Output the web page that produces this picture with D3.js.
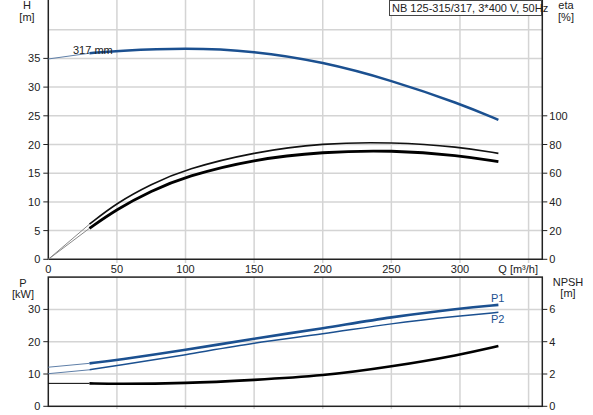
<!DOCTYPE html>
<html>
<head>
<meta charset="utf-8">
<script src="https://cdn.jsdelivr.net/npm/d3@7"></script>
<style>
  body { margin: 0; background: #fff; }
  text { font-family: "Liberation Sans", Arial, sans-serif; font-size: 11px; fill: #222; }
</style>
</head>
<body>
<div id="chart"></div>
<script>
// flow points (m3/h)
var flow = [0, 30, 50, 100, 150, 200, 250, 300, 328];
var flowEta = [0, 30, 50, 75, 100, 150, 200, 250, 300, 328];
// head, m
var head = [34.9, 35.9, 36.3, 36.85, 36.3, 34.4, 31.2, 27.1, 24.3];
// efficiencies, % (on flowEta)
var etaUpper = [0, 24.5, 39.4, 52.4, 62.8, 74.8, 81.0, 81.7, 78.4, 73.8];
var etaLower = [0, 21.6, 35.0, 47.6, 57.8, 69.8, 74.9, 76.1, 72.4, 68.0];
// power, kW
var powerP1 = [12.1, 13.3, 14.3, 17.4, 21.0, 24.1, 27.7, 30.3, 31.4];
var powerP2 = [10.1, 11.3, 12.6, 15.9, 19.7, 22.3, 25.7, 28.0, 29.1];
// npsh, m
var npsh = [1.42, 1.42, 1.38, 1.42, 1.63, 1.88, 2.45, 3.18, 3.73];

var qTicks = [0, 50, 100, 150, 200, 250, 300];
var qGrid = [50, 100, 150, 200, 250, 300, 350];
var hTicks = [0, 5, 10, 15, 20, 25, 30, 35];
var hGrid = [5, 10, 15, 20, 25, 30, 35, 40];
var etaTicks = [0, 20, 40, 60, 80, 100];
var pTicks = [0, 10, 20, 30];
var npshTicks = [0, 2, 4, 6];

var width = 593, height = 415;
var blue = "#1b5090";
var grid = "#d4d4d4";

var svg = d3.select("#chart").append("svg").attr("width", width).attr("height", height);

var x = d3.scaleLinear().domain([0, 360]).range([48.3, 542.3]);
var yH = d3.scaleLinear().domain([0, 45]).range([259.3, 1]);
var yEta = d3.scaleLinear().domain([0, 180]).range([259.3, 1]);
var yP = d3.scaleLinear().domain([0, 40]).range([406.3, 277.1]);
var yN = d3.scaleLinear().domain([0, 8]).range([406.3, 277.1]);

function pairs(qs, vals) {
  return qs.map(function(q, i) { return [q, vals[i]]; });
}

// grid lines
svg.append("g").selectAll("line").data(qGrid).enter().append("line")
  .attr("x1", function(d) { return x(d); }).attr("x2", function(d) { return x(d); })
  .attr("y1", 0).attr("y2", 263)
  .attr("stroke", grid).attr("stroke-width", 1.5);
svg.append("g").selectAll("line").data(hGrid).enter().append("line")
  .attr("x1", x(0)).attr("x2", x(360))
  .attr("y1", function(d) { return yH(d); }).attr("y2", function(d) { return yH(d); })
  .attr("stroke", grid).attr("stroke-width", 1.5);
svg.append("g").selectAll("line").data(qGrid).enter().append("line")
  .attr("x1", function(d) { return x(d); }).attr("x2", function(d) { return x(d); })
  .attr("y1", 277).attr("y2", 409)
  .attr("stroke", grid).attr("stroke-width", 1.5);
svg.append("g").selectAll("line").data([10, 20, 30]).enter().append("line")
  .attr("x1", x(0)).attr("x2", x(360))
  .attr("y1", function(d) { return yP(d); }).attr("y2", function(d) { return yP(d); })
  .attr("stroke", grid).attr("stroke-width", 1.5);

// axes
var axisColor = "#222";
svg.append("path").attr("d", "M" + x(0) + ",0V" + yH(0) + "H" + x(360) + "V0")
  .attr("fill", "none").attr("stroke", axisColor).attr("stroke-width", 1.5);
svg.append("rect").attr("x", x(0)).attr("y", yP(40)).attr("width", x(360) - x(0)).attr("height", yP(0) - yP(40))
  .attr("fill", "none").attr("stroke", axisColor).attr("stroke-width", 1.5);

function leftTicks(scale, ticks) {
  var g = svg.append("g");
  g.selectAll("line").data(ticks).enter().append("line")
    .attr("x1", x(0) - 5).attr("x2", x(0))
    .attr("y1", function(d) { return scale(d); }).attr("y2", function(d) { return scale(d); })
    .attr("stroke", axisColor);
  g.selectAll("text").data(ticks).enter().append("text")
    .attr("x", x(0) - 8).attr("y", function(d) { return scale(d) + 4; })
    .attr("text-anchor", "end").text(function(d) { return d; });
}
function rightTicks(scale, ticks) {
  var g = svg.append("g");
  g.selectAll("line").data(ticks).enter().append("line")
    .attr("x1", x(360)).attr("x2", x(360) + 5)
    .attr("y1", function(d) { return scale(d); }).attr("y2", function(d) { return scale(d); })
    .attr("stroke", axisColor);
  g.selectAll("text").data(ticks).enter().append("text")
    .attr("x", x(360) + 7).attr("y", function(d) { return scale(d) + 4; })
    .attr("text-anchor", "start").text(function(d) { return d; });
}
leftTicks(yH, hTicks);
rightTicks(yEta, etaTicks);
leftTicks(yP, pTicks);
rightTicks(yN, npshTicks);

svg.append("g").selectAll("text").data(qTicks).enter().append("text")
  .attr("x", function(d) { return x(d); }).attr("y", 273)
  .attr("text-anchor", "middle").text(function(d) { return d; });
svg.append("text").attr("x", 538).attr("y", 273).attr("text-anchor", "end").text("Q [m³/h]");

// axis titles
function title(tx, ty, s) {
  svg.append("text").attr("x", tx).attr("y", ty).attr("text-anchor", "middle").text(s);
}
title(27, 9, "H"); title(27, 21, "[m]");
title(566, 9, "eta"); title(566, 21, "[%]");
title(23, 287, "P"); title(23, 298, "[kW]");
title(568, 286, "NPSH"); title(568, 297, "[m]");

// header box
svg.append("rect").attr("x", 389.5).attr("y", 0.5).attr("width", 152).attr("height", 15)
  .attr("fill", "#fff").attr("stroke", "#444");
svg.append("text").attr("x", 392).attr("y", 12).text("NB 125-315/317, 3*400 V, 50Hz");

// curves: thin straight lead-in to the first measured point, then smooth thick curve
function drawCurve(qs, vals, yScale, color, thick, thin) {
  var pts = pairs(qs, vals);
  var lead = d3.line().x(function(d) { return x(d[0]); }).y(function(d) { return yScale(d[1]); });
  var smooth = d3.line().x(function(d) { return x(d[0]); }).y(function(d) { return yScale(d[1]); })
    .curve(d3.curveBasis);
  svg.append("path").attr("d", lead(pts.slice(0, 2)))
    .attr("fill", "none").attr("stroke", thin).attr("stroke-width", 1);
  svg.append("path").attr("d", smooth(pts.slice(1)))
    .attr("fill", "none").attr("stroke", color).attr("stroke-width", thick);
}

drawCurve(flow, head, yH, blue, 2.5, "#5f7fa8");
drawCurve(flowEta, etaUpper, yEta, "#111", 1.6, "#888");
drawCurve(flowEta, etaLower, yEta, "#000", 2.8, "#888");
drawCurve(flow, powerP1, yP, blue, 2.6, "#5f7fa8");
drawCurve(flow, powerP2, yP, blue, 1.5, "#5f7fa8");
drawCurve(flow, npsh, yN, "#000", 2.6, "#000");

svg.append("text").attr("x", 73).attr("y", 54).text("317 mm");
svg.append("text").attr("x", 491).attr("y", 302).style("fill", blue).text("P1");
svg.append("text").attr("x", 491).attr("y", 323).style("fill", blue).text("P2");
</script>
</body>
</html>
